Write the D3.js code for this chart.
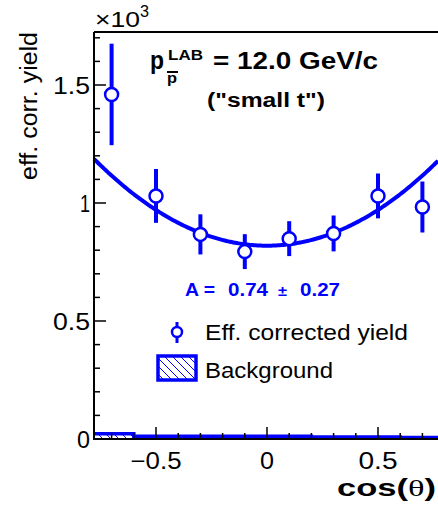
<!DOCTYPE html>
<html>
  <head>
    <meta charset="utf-8">
    <script src="https://d3js.org/d3.v7.min.js"></script>
    <style>
      body { margin: 0; background: #fff; }
      svg { font-family: "Liberation Sans", Arial, sans-serif; }
    </style>
  </head>
  <body>
    <div id="chart"></div>
    <script>
    // data (yield in units of 10^3)
    var binCenters = [-0.7, -0.5, -0.3, -0.1, 0.1, 0.3, 0.5, 0.7];
    var yields = [1.46, 1.03, 0.867, 0.794, 0.849, 0.871, 1.03, 0.983];
    var yieldErr = [0.215, 0.114, 0.085, 0.074, 0.074, 0.076, 0.095, 0.108];
    var bgEdges = [-0.8, -0.6, -0.4, -0.2, 0.0, 0.2, 0.4, 0.6, 0.8];
    var bgValues = [0.022, 0.012, 0.012, 0.012, 0.012, 0.008, 0.009, 0.006];
    var fitNorm = 0.819, fitA = 0.74, fitAErr = 0.27;
    var xTicks = [-0.5, 0, 0.5];
    var yTicks = [0, 0.5, 1, 1.5];

    var W = 438, H = 506;
    var padL = 94, padT = 32, padB = 439;
    var blue = "#0000ff";

    var svg = d3.select("#chart").append("svg")
      .attr("width", W).attr("height", H);

    // 0 -> 267px, 0.5 -> 378px (frame is cut on the right)
    var x = d3.scaleLinear().domain([0, 0.5]).range([267, 378]);
    var y = d3.scaleLinear().domain([0, 1.5]).range([padB, 85]);
    var xMin = x.invert(padL), xMax = x.invert(W);

    var defs = svg.append("defs");
    var pat = defs.append("pattern")
      .attr("id", "hatch").attr("patternUnits", "userSpaceOnUse")
      .attr("width", 8).attr("height", 8);
    pat.append("path").attr("d", "M-2,-2 L10,10 M-2,6 L2,10 M6,-2 L10,2")
      .attr("stroke", blue).attr("stroke-width", 1);

    // helper for the wide ROOT-style text
    function txt(g, xx, yy, size, s, len, adj) {
      var t = g.append("text").attr("x", xx).attr("y", yy).attr("font-size", size).text(s);
      if (len) t.attr("textLength", len).attr("lengthAdjust", adj || "spacingAndGlyphs");
      return t;
    }

    var plot = svg.append("g");

    // background histogram
    var bgPts = [];
    bgValues.forEach(function(v, i) {
      bgPts.push([Math.max(bgEdges[i], xMin), v]);
      bgPts.push([Math.min(bgEdges[i + 1], xMax), v]);
    });
    plot.append("path").datum(bgPts)
      .attr("d", d3.area().x(function(d) { return x(d[0]); })
        .y0(y(0)).y1(function(d) { return y(d[1]); }))
      .attr("fill", "url(#hatch)");
    plot.append("path").datum(bgPts)
      .attr("d", d3.line().x(function(d) { return x(d[0]); }).y(function(d) { return y(d[1]); }))
      .attr("fill", "none").attr("stroke", blue).attr("stroke-width", 3.5);

    // fit curve
    var fitPts = d3.range(0, 201).map(function(i) {
      var c = xMin + (xMax - xMin) * i / 200;
      return [c, fitNorm * (1 + fitA * c * c)];
    });
    plot.append("path").datum(fitPts)
      .attr("d", d3.line().x(function(d) { return x(d[0]); }).y(function(d) { return y(d[1]); }))
      .attr("fill", "none").attr("stroke", blue).attr("stroke-width", 4);

    // data points
    binCenters.forEach(function(c, i) {
      plot.append("line")
        .attr("x1", x(c)).attr("x2", x(c))
        .attr("y1", y(yields[i] + yieldErr[i])).attr("y2", y(yields[i] - yieldErr[i]))
        .attr("stroke", blue).attr("stroke-width", 4);
      plot.append("circle")
        .attr("cx", x(c)).attr("cy", y(yields[i]))
        .attr("r", 6.5).attr("fill", "#fff").attr("stroke", blue).attr("stroke-width", 2.5);
    });

    // axes
    var ax = svg.append("g");
    ax.append("line").attr("x1", padL).attr("x2", padL).attr("y1", padT).attr("y2", padB + 1)
      .attr("stroke", "#000").attr("stroke-width", 2);
    d3.range(0, 18).forEach(function(i) {
      var v = i / 10;
      if (y(v) < padT) return;
      var major = i % 5 === 0;
      ax.append("line").attr("x1", padL).attr("x2", padL + (major ? 12 : 6))
        .attr("y1", y(v)).attr("y2", y(v)).attr("stroke", "#000").attr("stroke-width", 1.5);
    });
    var yLen = {"0": 13, "0.5": 37, "1": 10, "1.5": 37};
    yTicks.forEach(function(v) {
      txt(ax, padL - 4, y(v) + 9, 24, String(v), yLen[String(v)]).attr("text-anchor", "end");
    });
    ax.append("line").attr("x1", padL).attr("x2", W).attr("y1", padT).attr("y2", padT)
      .attr("stroke", "#000").attr("stroke-width", 2);

    ax.append("line").attr("x1", padL - 1).attr("x2", W).attr("y1", padB).attr("y2", padB)
      .attr("stroke", "#000").attr("stroke-width", 2);
    d3.range(-7, 8).forEach(function(i) {
      var v = i / 10;
      var major = i % 5 === 0;
      ax.append("line").attr("x1", x(v)).attr("x2", x(v))
        .attr("y1", padB).attr("y2", padB - (major ? 12 : 6))
        .attr("stroke", "#000").attr("stroke-width", 1.5);
    });
    var xLen = {"-0.5": 51, "0": 14, "0.5": 39};
    xTicks.forEach(function(v) {
      txt(ax, x(v), padB + 30, 23, v < 0 ? "\u2212" + Math.abs(v) : String(v), xLen[String(v)])
        .attr("text-anchor", "middle");
    });

    // exponent label
    txt(svg, 95, 27, 22, "\u00d710", 45);
    txt(svg, 140, 17, 16, "3", 9);

    // axis titles
    svg.append("text").attr("transform", "translate(37,180) rotate(-90)")
      .attr("font-size", 23).attr("textLength", 148).attr("lengthAdjust", "spacingAndGlyphs")
      .text("eff. corr. yield");
    var xt = svg.append("text").attr("x", 337).attr("y", 496)
      .attr("font-size", 23).attr("font-weight", "bold")
      .attr("textLength", 99).attr("lengthAdjust", "spacingAndGlyphs");
    xt.append("tspan").text("cos(");
    xt.append("tspan").attr("font-weight", "normal").attr("font-family", "Liberation Serif").text("\u03b8");
    xt.append("tspan").text(")");

    // title
    var tg = svg.append("g").attr("font-weight", "bold");
    txt(tg, 150, 69, 25, "p", 14);
    txt(tg, 168, 60, 14, "LAB", 35);
    txt(tg, 167, 83, 15, "p", 10);
    tg.append("line").attr("x1", 167).attr("x2", 178).attr("y1", 72).attr("y2", 72)
      .attr("stroke", "#000").attr("stroke-width", 2);
    txt(tg, 213, 69, 23, "= 12.0 GeV/c", 165);
    txt(tg, 207, 107, 20, "(\"small t\")", 118);

    // fit parameter
    var fg = svg.append("g").attr("font-weight", "bold").attr("fill", blue);
    txt(fg, 185, 296, 18, "A =", 30);
    txt(fg, 228, 296, 18, fitA.toFixed(2), 40);
    txt(fg, 278, 296, 14, "\u00b1", 9);
    txt(fg, 300, 296, 18, fitAErr.toFixed(2), 40);

    // legend
    var lg = svg.append("g");
    lg.append("line").attr("x1", 177).attr("x2", 177).attr("y1", 322).attr("y2", 343)
      .attr("stroke", blue).attr("stroke-width", 3);
    lg.append("circle").attr("cx", 177).attr("cy", 332).attr("r", 5)
      .attr("fill", "#fff").attr("stroke", blue).attr("stroke-width", 2.5);
    txt(lg, 205, 340, 22, "Eff. corrected yield", 203);
    lg.append("rect").attr("x", 158).attr("y", 356).attr("width", 38).attr("height", 24)
      .attr("fill", "url(#hatch)").attr("stroke", blue).attr("stroke-width", 3.5);
    txt(lg, 205, 378, 22, "Background", 128);
    </script>
  </body>
</html>
